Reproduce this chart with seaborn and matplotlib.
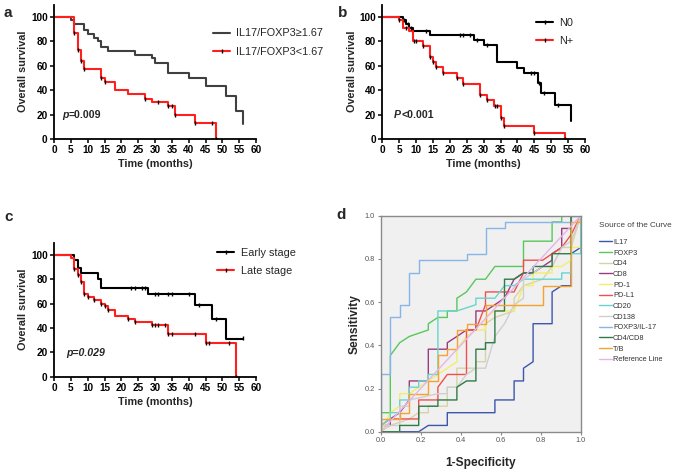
import numpy as np
import pandas as pd
import matplotlib
matplotlib.use("Agg")
import matplotlib.pyplot as plt
from matplotlib.lines import Line2D
import seaborn as sns

# ---------------- data ----------------
# Panel a
a_hi_t = [0, 5, 6, 9, 10, 12, 13, 14, 16, 24, 29, 30, 34, 40, 45, 51, 54, 56]
a_hi_s = [100, 97, 94, 89, 86, 83, 80, 75, 72, 69, 66, 62, 54, 50, 43, 35, 23, 12]
a_lo_t = [0, 6, 7, 8, 9, 14, 15, 18, 22, 27, 29, 34, 36, 42, 48]
a_lo_s = [100, 87, 73, 64, 57, 50, 47, 40, 37, 33, 30, 27, 20, 13, 0]
a_lo_ct = [6, 7, 8, 9, 14, 15, 27, 31, 34, 35, 36, 42, 47, 48]
a_lo_cs = [87, 73, 64, 57, 50, 47, 33, 30, 27, 27, 20, 13, 13, 0]
a_labels = ["IL17/FOXP3\u22651.67", "IL17/FOXP3<1.67"]
a_p = "=0.009"

# Panel b
b_n0_t = [0, 6, 7, 8, 9, 14, 27, 30, 34, 40, 42, 46, 47, 51, 56]
b_n0_s = [100, 97, 94, 91, 88, 85, 81, 77, 63, 58, 54, 46, 38, 28, 15]
b_n0_ct = [6.5, 7.5, 8.5, 13, 23, 24, 26, 28, 31, 44, 45, 46.5, 48, 52]
b_n0_cs = [97, 94, 91, 88, 85, 85, 85, 81, 77, 54, 54, 46, 38, 28]
b_np_t = [0, 5, 6, 8, 9, 12, 14, 15, 16, 18, 22, 24, 29, 31, 33, 35, 36, 45, 54]
b_np_s = [100, 97, 91, 88, 80, 76, 67, 63, 59, 54, 50, 45, 36, 32, 27, 17, 11, 5, 0]
b_np_ct = [5, 7, 9.5, 10, 12, 14, 15, 16, 18, 22, 24, 29, 31, 33.5, 34, 35, 36, 45, 54]
b_np_cs = [97, 91, 80, 80, 76, 67, 63, 59, 54, 50, 45, 36, 32, 27, 27, 17, 11, 5, 0]
b_labels = ["N0", "N+"]
b_p = "<0.001"

# Panel c
c_e_t = [0, 6, 7, 8, 13, 14, 28, 42, 47, 51, 56]
c_e_s = [100, 96, 89, 85, 80, 73, 68, 59, 47, 31, 31]
c_e_ct = [23, 24, 26, 27, 30, 31, 34, 35, 40, 43, 48, 56]
c_e_cs = [73, 73, 73, 73, 68, 68, 68, 68, 68, 59, 47, 31.5]
c_l_t = [0, 5, 6, 7, 8, 9, 10, 12, 14, 15, 16, 18, 22, 24, 29, 34, 45, 54]
c_l_s = [100, 97, 88, 83, 78, 68, 65, 63, 60, 58, 55, 50, 47, 45, 42, 35, 28, 0]
c_l_ct = [6, 7, 8, 9, 10, 12, 14, 15, 16, 22, 24, 29, 30, 31, 33, 34, 35, 42, 45, 46, 52, 54]
c_l_cs = [88, 83, 78, 68, 65, 63, 60, 58, 55, 47, 45, 42, 42, 42, 42, 35, 35, 35, 28, 28, 28, 0]
c_labels = ["Early stage", "Late stage"]
c_p = "p=0.029"

km_xticks = list(range(0, 61, 5))
km_yticks = list(range(0, 101, 20))

# Panel d (ROC)
roc_names = ["IL17", "FOXP3", "CD4", "CD8", "PD-1", "PD-L1", "CD20", "CD138",
             "FOXP3/IL-17", "CD4/CD8", "T/B"]
roc_x = {
    "IL17": [0, 0.19, 0.238, 0.333, 0.333, 0.571, 0.571, 0.667, 0.667, 0.714, 0.714, 0.762, 0.762, 0.857, 0.857, 0.905, 0.952, 0.952, 1.0, 1.0],
    "FOXP3": [0, 0, 0.048, 0.048, 0.095, 0.143, 0.238, 0.238, 0.286, 0.333, 0.333, 0.381, 0.381, 0.429, 0.476, 0.524, 0.571, 0.714, 0.714, 0.857, 0.857, 0.905, 0.905, 1.0],
    "CD4": [0, 0.048, 0.143, 0.19, 0.238, 0.238, 0.333, 0.333, 0.381, 0.381, 0.476, 0.476, 0.524, 0.524, 0.571, 0.667, 0.667, 0.714, 0.81, 0.857, 0.905, 0.952, 1.0],
    "CD8": [0, 0, 0.048, 0.048, 0.095, 0.143, 0.143, 0.238, 0.238, 0.333, 0.333, 0.381, 0.429, 0.476, 0.476, 0.524, 0.571, 0.619, 0.667, 0.714, 0.762, 0.81, 0.857, 0.857, 0.905, 0.905, 0.952, 0.952, 1.0],
    "PD-1": [0, 0.048, 0.095, 0.095, 0.143, 0.19, 0.238, 0.286, 0.333, 0.381, 0.381, 0.429, 0.476, 0.524, 0.524, 0.571, 0.667, 0.714, 0.762, 0.762, 0.857, 0.857, 0.905, 0.952, 0.952, 1.0, 1.0],
    "PD-L1": [0, 0, 0.048, 0.19, 0.19, 0.286, 0.286, 0.333, 0.429, 0.429, 0.476, 0.524, 0.524, 0.667, 0.714, 0.714, 0.81, 0.857, 0.905, 0.952, 1.0],
    "CD20": [0, 0, 0.048, 0.048, 0.095, 0.095, 0.143, 0.143, 0.19, 0.19, 0.238, 0.238, 0.286, 0.286, 0.381, 0.476, 0.476, 0.571, 0.619, 0.667, 0.714, 0.905, 0.905, 0.952, 0.952, 1.0, 1.0],
    "CD138": [0, 0, 0.095, 0.095, 0.143, 0.143, 0.286, 0.333, 0.333, 0.381, 0.429, 0.476, 0.524, 0.571, 0.619, 0.667, 0.714, 0.714, 0.81, 0.857, 0.905, 0.952, 1.0],
    "FOXP3/IL-17": [0, 0, 0.048, 0.048, 0.095, 0.095, 0.143, 0.143, 0.19, 0.19, 0.429, 0.429, 0.524, 0.524, 0.619, 0.619, 0.952, 0.952, 1.0],
    "CD4/CD8": [0, 0.095, 0.095, 0.19, 0.19, 0.286, 0.286, 0.381, 0.381, 0.429, 0.476, 0.476, 0.524, 0.524, 0.571, 0.571, 0.619, 0.619, 0.667, 0.714, 0.762, 0.762, 0.857, 0.857, 0.952, 0.952, 1.0],
    "T/B": [0, 0, 0.095, 0.095, 0.143, 0.143, 0.238, 0.238, 0.286, 0.286, 0.333, 0.333, 0.381, 0.381, 0.429, 0.429, 0.524, 0.524, 0.81, 0.81, 0.952, 0.952, 1.0, 1.0],
}
roc_y = {
    "IL17": [0, 0, 0.029, 0.029, 0.088, 0.088, 0.147, 0.147, 0.235, 0.235, 0.294, 0.324, 0.5, 0.5, 0.647, 0.676, 0.676, 0.824, 0.853, 1.0],
    "FOXP3": [0, 0.088, 0.088, 0.353, 0.412, 0.441, 0.471, 0.5, 0.529, 0.529, 0.559, 0.559, 0.618, 0.647, 0.706, 0.706, 0.765, 0.765, 0.882, 0.882, 0.971, 0.971, 1.0, 1.0],
    "CD4": [0, 0.029, 0.059, 0.088, 0.088, 0.118, 0.118, 0.206, 0.206, 0.294, 0.294, 0.324, 0.324, 0.5, 0.529, 0.559, 0.618, 0.676, 0.706, 0.765, 0.853, 0.853, 1.0],
    "CD8": [0, 0.029, 0.029, 0.059, 0.088, 0.147, 0.235, 0.235, 0.382, 0.382, 0.412, 0.441, 0.471, 0.471, 0.559, 0.559, 0.588, 0.618, 0.706, 0.735, 0.735, 0.765, 0.794, 0.824, 0.853, 0.941, 0.941, 1.0, 1.0],
    "PD-1": [0, 0.088, 0.118, 0.176, 0.176, 0.206, 0.235, 0.265, 0.294, 0.324, 0.382, 0.441, 0.471, 0.471, 0.529, 0.559, 0.559, 0.676, 0.676, 0.735, 0.735, 0.765, 0.765, 0.794, 0.853, 0.853, 1.0],
    "PD-L1": [0, 0.029, 0.059, 0.059, 0.147, 0.147, 0.206, 0.265, 0.265, 0.471, 0.471, 0.588, 0.647, 0.647, 0.735, 0.794, 0.794, 0.824, 0.853, 0.912, 1.0],
    "CD20": [0, 0.029, 0.059, 0.088, 0.088, 0.147, 0.147, 0.206, 0.206, 0.235, 0.235, 0.265, 0.265, 0.559, 0.559, 0.588, 0.618, 0.618, 0.676, 0.676, 0.706, 0.706, 0.735, 0.735, 0.824, 0.824, 1.0],
    "CD138": [0, 0.029, 0.029, 0.118, 0.118, 0.147, 0.176, 0.176, 0.206, 0.206, 0.265, 0.294, 0.294, 0.441, 0.5, 0.588, 0.618, 0.706, 0.765, 0.765, 0.853, 0.882, 1.0],
    "FOXP3/IL-17": [0, 0.265, 0.265, 0.529, 0.529, 0.588, 0.588, 0.735, 0.735, 0.794, 0.794, 0.824, 0.824, 0.941, 0.941, 0.971, 0.971, 1.0, 1.0],
    "CD4/CD8": [0, 0, 0.029, 0.029, 0.118, 0.118, 0.147, 0.147, 0.206, 0.235, 0.235, 0.382, 0.382, 0.412, 0.412, 0.559, 0.559, 0.706, 0.706, 0.735, 0.735, 0.765, 0.765, 0.824, 0.824, 1.0, 1.0],
    "T/B": [0, 0.059, 0.059, 0.088, 0.088, 0.176, 0.176, 0.235, 0.235, 0.353, 0.353, 0.382, 0.382, 0.471, 0.471, 0.5, 0.5, 0.588, 0.588, 0.676, 0.676, 0.971, 0.971, 1.0],
}
roc_colors = {
    "IL17": "#3d56ad", "FOXP3": "#57c85a", "CD4": "#d8d3a6", "CD8": "#9c3a80",
    "PD-1": "#f3ee6a", "PD-L1": "#f24e4e", "CD20": "#66d6cc", "CD138": "#cfcfcf",
    "FOXP3/IL-17": "#86b6e8", "CD4/CD8": "#2e7b46", "T/B": "#f5a233",
}
ref_x = [0, 1]
ref_y = [0, 1]
ref_color = "#e6b5e8"
roc_ticks = [0.0, 0.2, 0.4, 0.6, 0.8, 1.0]
roc_ticklabels = ["0.0", "0.2", "0.4", "0.6", "0.8", "1.0"]

# ---------------- style ----------------
sns.set_theme(style="ticks")
plt.rcParams["font.family"] = ["Liberation Sans", "DejaVu Sans"]

W, H = 677, 472
fig = plt.figure(figsize=(W / 100, H / 100), dpi=100)


def rect(l, r, t, b):
    return [l / W, 1 - b / H, (r - l) / W, (b - t) / H]


RED = "#ff1f1f"


def km_axes(r):
    ax = fig.add_axes(r)
    ax.set_xlim(0, 60)
    ax.set_ylim(0, 110)
    ax.set_xticks(km_xticks)
    ax.set_yticks(km_yticks)
    for s in ["top", "right"]:
        ax.spines[s].set_visible(False)
    for s in ["left", "bottom"]:
        ax.spines[s].set_color("black")
        ax.spines[s].set_linewidth(1.3)
    ax.tick_params(direction="out", length=3, width=1.1, labelsize=7.2, pad=1.5,
                   colors="black", bottom=True, left=True)
    for lab in ax.get_xticklabels() + ax.get_yticklabels():
        lab.set_fontweight("bold")
    ax.set_xlabel("Time (months)", fontsize=7.8, fontweight="bold", labelpad=3)
    ax.set_ylabel("Overall survival", fontsize=7.8, fontweight="bold", labelpad=2)
    return ax


def km_line(ax, t, s, color):
    sns.lineplot(x=t, y=s, drawstyle="steps-post", color=color, lw=1.5, ax=ax,
                 estimator=None, sort=False, legend=False, zorder=2)


def km_marks(ax, ct, cs):
    sns.scatterplot(x=ct, y=cs, marker="|", color="black", s=8, linewidth=1.0,
                    ax=ax, legend=False, zorder=3)


def km_legend(ax, colors, labels, marks, x, y, pad=0.5):
    handles = []
    for c, m in zip(colors, marks):
        handles.append(Line2D([0], [0], color=c, lw=1.5,
                              marker="|" if m else None,
                              markeredgecolor="black", markersize=3,
                              markeredgewidth=1.0))
    ax.legend(handles, labels, loc="upper left", bbox_to_anchor=(x / W, 1 - y / H),
              bbox_transform=fig.transFigure, frameon=False, fontsize=7.8,
              handlelength=1.6, handletextpad=pad, labelspacing=0.75,
              borderpad=0, borderaxespad=0, numpoints=1)


def ptext(ax, x, y, letter, rest):
    t1 = ax.text(x, y, letter, fontsize=7.6, fontweight="bold", fontstyle="italic",
                 va="bottom", ha="left")
    ax.annotate(rest, xy=(1, 0), xycoords=t1, fontsize=7.6, fontweight="bold",
                va="bottom", ha="left")


# ---- panel a
axa = km_axes(rect(54, 256, 4.5, 139))
km_line(axa, a_hi_t, a_hi_s, "#404040")
km_line(axa, a_lo_t, a_lo_s, RED)
km_marks(axa, a_lo_ct, a_lo_cs)
km_legend(axa, ["#404040", RED], a_labels, [False, True], 213, 28.5)
ptext(axa, 2.4, 15.5, "p", a_p)

# ---- panel b
axb = km_axes(rect(382.3, 585, 4.5, 139))
km_line(axb, b_n0_t, b_n0_s, "black")
km_line(axb, b_np_t, b_np_s, RED)
km_marks(axb, b_n0_ct, b_n0_cs)
km_marks(axb, b_np_ct, b_np_cs)
km_legend(axb, ["black", RED], b_labels, [True, True], 536, 17.5)
ptext(axb, 3.5, 15.5, "P", b_p)

# ---- panel c
axc = km_axes(rect(54, 256, 242.5, 376.7))
km_line(axc, c_e_t, c_e_s, "black")
km_line(axc, c_l_t, c_l_s, RED)
km_marks(axc, c_e_ct, c_e_cs)
km_marks(axc, c_l_ct, c_l_cs)
km_legend(axc, ["black", RED], c_labels, [True, True], 217, 247.5, pad=0.65)
axc.text(3.5, 15.5, c_p, fontsize=7.6, fontweight="bold", fontstyle="italic",
         va="bottom", ha="left")

# ---- panel d
axd = fig.add_axes(rect(380.7, 580.7, 215.7, 431.7))
axd.set_facecolor("#f0f0f0")
for name in roc_names:
    sns.lineplot(x=roc_x[name], y=roc_y[name], color=roc_colors[name], lw=1.0,
                 ax=axd, estimator=None, sort=False, label=name)
sns.lineplot(x=ref_x, y=ref_y, color=ref_color, lw=1.0, ax=axd, estimator=None,
             sort=False, label="Reference Line")
axd.set_xlim(0, 1)
axd.set_ylim(0, 1)
axd.set_xticks(roc_ticks)
axd.set_yticks(roc_ticks)
axd.set_xticklabels(roc_ticklabels)
axd.set_yticklabels(roc_ticklabels)
for s in axd.spines.values():
    s.set_color("#8a8a8a")
    s.set_linewidth(1.0)
axd.tick_params(direction="out", length=2.5, width=0.8, color="#8a8a8a",
                labelsize=5.3, labelcolor="#555555", pad=1.5, bottom=True, left=True)
axd.set_xlabel("1-Specificity", fontsize=8.6, fontweight="bold", labelpad=9)
axd.set_ylabel("Sensitivity", fontsize=8.6, fontweight="bold", labelpad=3)
leg = axd.legend(loc="upper left", bbox_to_anchor=(599 / W, 1 - 222 / H),
                 bbox_transform=fig.transFigure, frameon=False, fontsize=5.3,
                 title="Source of the Curve", title_fontsize=5.9,
                 handlelength=1.7, handletextpad=0.2, labelspacing=0.48,
                 borderpad=0, borderaxespad=0, alignment="left")
leg.get_title().set_color("#444444")
for t in leg.get_texts():
    t.set_color("#333333")
leg._legend_box.sep = 7
for ln in leg.get_lines():
    ln.set_linewidth(1.0)

# ---- panel letters
fig.text(4 / W, 1 - 13 / H, "a", fontsize=11, fontweight="bold", va="center")
fig.text(338 / W, 1 - 13 / H, "b", fontsize=11, fontweight="bold", va="center")
fig.text(4 / W, 1 - 217 / H, "c", fontsize=11, fontweight="bold", va="center")
fig.text(336 / W, 1 - 215 / H, "d", fontsize=11, fontweight="bold", va="center")

fig.savefig("out.png", dpi=100)
